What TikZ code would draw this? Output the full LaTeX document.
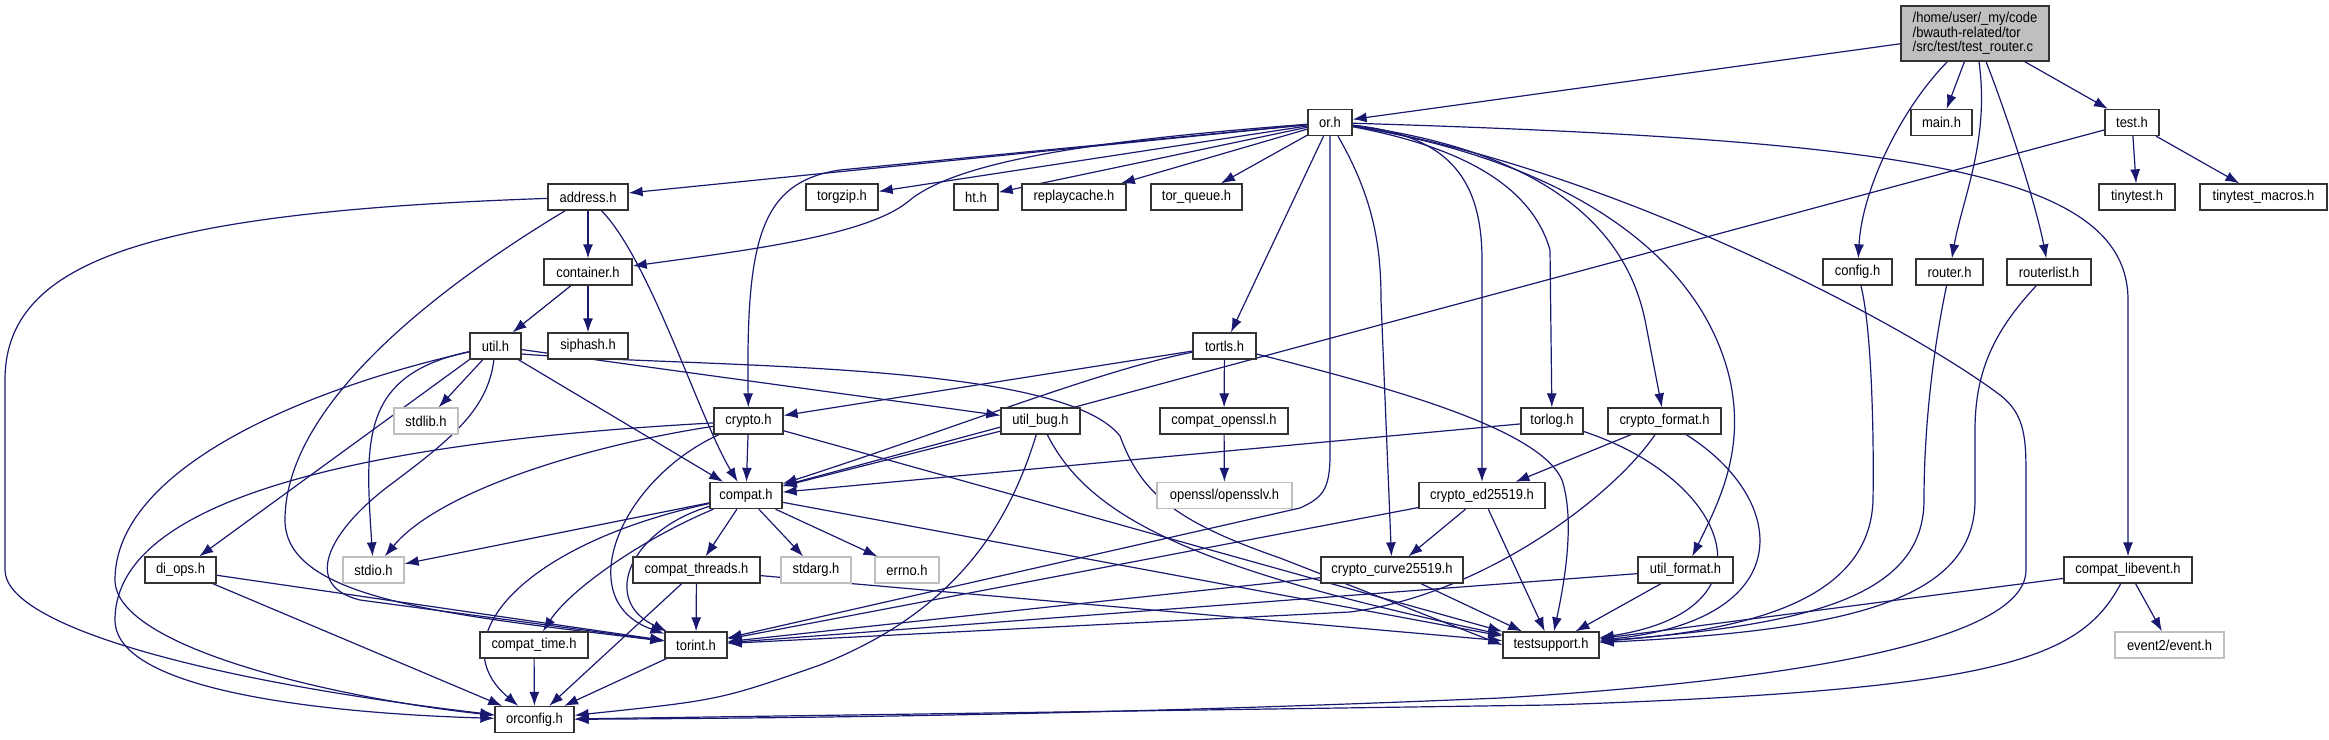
\documentclass[tikz,border=0pt]{standalone}
\usepackage{fontspec}
\setmainfont{Liberation Sans}[FakeStretch=0.9]
\usetikzlibrary{arrows.meta,calc}
\definecolor{edgec}{HTML}{191970}
\definecolor{sysgray}{HTML}{BFBFBF}
\pgfdeclarelayer{bg}
\pgfsetlayers{bg,main}
\begin{document}
\begin{tikzpicture}[x=0.5pt,y=-0.5pt,
  hdr/.style={draw=black!80, line width=0.65pt, fill=white, minimum height=13pt, inner sep=0pt, font=\fontsize{7.2}{8}\selectfont},
  sys/.style={hdr, draw=sysgray},
  edge/.style={draw=edgec, line width=0.6pt, -{Latex[length=7pt,width=5pt]}},
]
\useasboundingbox (0,0) rectangle (2329,739);

\node[hdr, fill=sysgray, align=left, minimum width=74pt, minimum height=27.5pt, font=\fontsize{7.2}{7.35}\selectfont] (top) at (1975,33.5) {/home/user/\_my/code\\/bwauth-related/tor\\/src/test/test\_router.c};
\node[hdr, minimum width=22pt] (orh) at (1330,122.5) {or.h};
\node[hdr, minimum width=30.5pt] (mainh) at (1941.5,122.5) {main.h};
\node[hdr, minimum width=27pt] (testh) at (2132,122.5) {test.h};
\node[hdr, minimum width=40pt] (address) at (588,197) {address.h};
\node[hdr, minimum width=36pt] (torgzip) at (842,197) {torgzip.h};
\node[hdr, minimum width=22pt] (ht) at (976,197) {ht.h};
\node[hdr, minimum width=52pt] (replay) at (1074,197) {replaycache.h};
\node[hdr, minimum width=45.5pt] (torqueue) at (1196.5,197) {tor\_queue.h};
\node[hdr, minimum width=38pt] (tinytest) at (2137,197) {tinytest.h};
\node[hdr, minimum width=63.5pt] (tinymacros) at (2263.5,197) {tinytest\_macros.h};
\node[hdr, minimum width=44pt] (container) at (588,272) {container.h};
\node[hdr, minimum width=34.5pt] (config) at (1857.5,272) {config.h};
\node[hdr, minimum width=33.5pt] (router) at (1949.5,272) {router.h};
\node[hdr, minimum width=42pt] (routerlist) at (2049,272) {routerlist.h};
\node[hdr, minimum width=25.5pt] (util) at (495.5,346) {util.h};
\node[hdr, minimum width=40pt] (siphash) at (588,346) {siphash.h};
\node[hdr, minimum width=31.5pt] (tortls) at (1224.5,346) {tortls.h};
\node[sys, minimum width=32pt] (stdlib) at (426,421) {stdlib.h};
\node[hdr, minimum width=34.5pt] (crypto) at (748.5,421) {crypto.h};
\node[hdr, minimum width=39.5pt] (utilbug) at (1040.5,421) {util\_bug.h};
\node[hdr, minimum width=64pt] (compatssl) at (1224,421) {compat\_openssl.h};
\node[hdr, minimum width=31pt] (torlog) at (1552,421) {torlog.h};
\node[hdr, minimum width=56.5pt] (cformat) at (1664.5,421) {crypto\_format.h};
\node[hdr, minimum width=36pt] (compat) at (746,495.5) {compat.h};
\node[sys, minimum width=67.5pt] (opensslv) at (1224.5,495.5) {openssl/opensslv.h};
\node[hdr, minimum width=63pt] (ed) at (1482,495.5) {crypto\_ed25519.h};
\node[hdr, minimum width=35.5pt] (diops) at (180.5,570) {di\_ops.h};
\node[sys, minimum width=30.5pt] (stdio) at (373.5,570) {stdio.h};
\node[hdr, minimum width=63.5pt] (cthreads) at (696.5,570) {compat\_threads.h};
\node[sys, minimum width=35pt] (stdarg) at (816,570) {stdarg.h};
\node[sys, minimum width=32pt] (errno) at (907,570) {errno.h};
\node[hdr, minimum width=71pt] (curve) at (1392,570) {crypto\_curve25519.h};
\node[hdr, minimum width=47.5pt] (uformat) at (1685.5,570) {util\_format.h};
\node[hdr, minimum width=64pt] (libevent) at (2128,570) {compat\_libevent.h};
\node[hdr, minimum width=54pt] (ctime) at (534,645) {compat\_time.h};
\node[hdr, minimum width=31pt] (torint) at (696,645) {torint.h};
\node[hdr, minimum width=48pt] (testsupport) at (1551,645) {testsupport.h};
\node[sys, minimum width=54.5pt] (event) at (2169.5,645) {event2/event.h};
\node[hdr, minimum width=39.5pt] (orconfig) at (534.5,719.5) {orconfig.h};

\begin{pgfonlayer}{bg}
\fill[white] (0,0) rectangle (2329,739);
% top node
\draw[edge] (top) -- (orh);
\draw[edge] (top) -- (mainh);
\draw[edge] (top) -- (testh);
\draw[edge] (top) .. controls (1900,110) and (1862,190) .. (config);
\draw[edge] (top) .. controls (1990,140) and (1962,200) .. (router);
\draw[edge] (top) .. controls (2005,110) and (2035,200) .. (routerlist);
% test.h
\draw[edge] (testh) -- (tinytest);
\draw[edge] (testh) -- (tinymacros);
\draw[edge] (testh) -- (compat);
% or.h
\draw[edge] (orh) -- (address);
\draw[edge] (orh) -- (torgzip);
\draw[edge] (orh) -- (ht);
\draw[edge] (orh) -- (replay);
\draw[edge] (orh) -- (torqueue);
\draw[edge] (orh) .. controls (1100,140) and (960,160) .. (910,200) .. controls (870,235) and (750,250) .. (container);
\draw[edge] (orh) -- (840,170) .. controls (760,182) and (746,240) .. (crypto);
\draw[edge] (orh) -- (tortls);
\draw[edge] (orh) -- (1330,455) .. controls (1330,490) and (1322,498) .. (1300,508) -- (torint);
\draw[edge] (orh) .. controls (1375,200) and (1381,250) .. (1381,300) -- (curve);
\draw[edge] (orh) .. controls (1440,135) and (1482,170) .. (1482,260) -- (ed);
\draw[edge] (orh) .. controls (1450,145) and (1530,180) .. (1550,250) -- (torlog);
\draw[edge] (orh) .. controls (1500,145) and (1620,200) .. (1645,320) -- (cformat);
\draw[edge] (orh) .. controls (1560,160) and (1700,250) .. (1730,380) .. controls (1745,450) and (1720,500) .. (uformat);
\draw[edge] (orh) .. controls (1600,165) and (1900,320) .. (2000,395) .. controls (2026,415) and (2026,440) .. (2026,480) -- (2026,570) .. controls (2026,640) and (1800,680) .. (1500,698) .. controls (1100,715) and (800,718) .. (orconfig);
\draw[edge] (orh) .. controls (1900,140) and (2128,170) .. (2128,300) -- (libevent);
% address.h
\draw[edge] (address) -- (container);
\draw[edge] (address) .. controls (650,260) and (700,420) .. (compat);
\draw[edge] (address) .. controls (450,280) and (285,400) .. (285,520) .. controls (285,600) and (450,615) .. (torint);
\draw[edge] (address) .. controls (150,212) and (5,260) .. (5,380) -- (5,570) .. controls (5,625) and (200,680) .. (orconfig);
% container.h
\draw[edge] (container) -- (util);
\draw[edge] (container) -- (siphash);
% util.h
\draw[edge] (util) -- (stdlib);
\draw[edge] (util) .. controls (360,375) and (365,440) .. (stdio);
\draw[edge] (util.south west) -- (diops);
\draw[edge] (util) .. controls (300,390) and (115,470) .. (115,580) .. controls (115,650) and (350,700) .. (orconfig);
\draw[edge] (util) .. controls (488,410) and (450,440) .. (390,485) .. controls (330,530) and (300,585) .. (360,600) -- (torint);
\draw[edge] (util) -- (compat);
\draw[edge] (util) -- (utilbug);
\draw[edge] ($(util.east)+(0,8)$) .. controls (700,368) and (1060,360) .. (1120,436) .. controls (1140,490) and (1170,520) .. (1280,558) -- (testsupport.west);
% crypto.h
\draw[edge] (crypto) -- (compat);
\draw[edge] (crypto) .. controls (590,445) and (440,490) .. (stdio);
\draw[edge] (crypto) .. controls (400,440) and (115,490) .. (115,620) .. controls (115,700) and (380,715) .. (orconfig);
\draw[edge] (crypto) .. controls (620,480) and (570,600) .. (torint);
\draw[edge] (crypto) -- (testsupport);
% compat.h
\draw[edge] (compat) -- (stdarg);
\draw[edge] (compat) -- (errno);
\draw[edge] (compat) -- (stdio);
\draw[edge] (compat) -- (cthreads);
\draw[edge] (compat) .. controls (640,540) and (570,590) .. (ctime);
\draw[edge] (compat) .. controls (630,530) and (600,600) .. (torint);
\draw[edge] (compat) .. controls (520,545) and (440,640) .. (orconfig);
\draw[edge] (compat) -- (testsupport);
% util_bug.h
\draw[edge] (utilbug) -- (compat);
\draw[edge] (utilbug) .. controls (1010,520) and (960,610) .. (820,665) .. controls (720,700) .. (orconfig);
\draw[edge] (utilbug) .. controls (1090,520) and (1200,570) .. (testsupport);
% tortls.h
\draw[edge] (tortls) -- (crypto);
\draw[edge] (tortls) .. controls (1100,370) and (950,430) .. (compat);
\draw[edge] (tortls) -- (compatssl);
\draw[edge] (tortls) .. controls (1400,390) and (1540,430) .. (1562,480) .. controls (1575,520) and (1565,580) .. (testsupport);
\draw[edge] (compatssl) -- (opensslv);
% torlog.h
\draw[edge] (torlog) -- (compat);
\draw[edge] (torlog) .. controls (1730,480) and (1780,610) .. (testsupport);
% crypto_format.h
\draw[edge] (cformat) -- (ed);
\draw[edge] (cformat) .. controls (1610,500) and (1480,595) .. (1350,612) -- (torint);
\draw[edge] (cformat) .. controls (1790,500) and (1800,620) .. (testsupport);
% crypto_ed25519.h
\draw[edge] (ed) -- (curve);
\draw[edge] (ed) -- (testsupport);
\draw[edge] (ed) -- (torint);
% crypto_curve25519.h
\draw[edge] (curve) -- (testsupport);
\draw[edge] (curve) -- (torint);
% util_format.h
\draw[edge] (uformat) -- (testsupport);
\draw[edge] (uformat) -- (torint);
% compat_libevent.h
\draw[edge] (libevent) -- (event);
\draw[edge] (libevent) -- (testsupport);
\draw[edge] (libevent) .. controls (2080,660) and (2000,690) .. (1550,705) -- (orconfig);
% compat_threads.h and others
\draw[edge] (cthreads) -- (torint);
\draw[edge] (cthreads) -- (orconfig);
\draw[edge] (cthreads) -- (testsupport);
\draw[edge] (ctime) -- (orconfig);
\draw[edge] (torint) -- (orconfig);
\draw[edge] (diops) -- (torint);
\draw[edge] (diops) -- (orconfig);
% config.h, router.h, routerlist.h
\draw[edge] (config) .. controls (1872,330) and (1874,440) .. (1873,500) .. controls (1870,600) and (1750,630) .. (testsupport);
\draw[edge] (router) .. controls (1935,340) and (1924,420) .. (1924,500) .. controls (1924,600) and (1800,625) .. (testsupport);
\draw[edge] (routerlist) .. controls (1995,330) and (1975,370) .. (1975,430) -- (1975,500) .. controls (1975,600) and (1850,630) .. (testsupport);
\end{pgfonlayer}
\end{tikzpicture}
\end{document}
